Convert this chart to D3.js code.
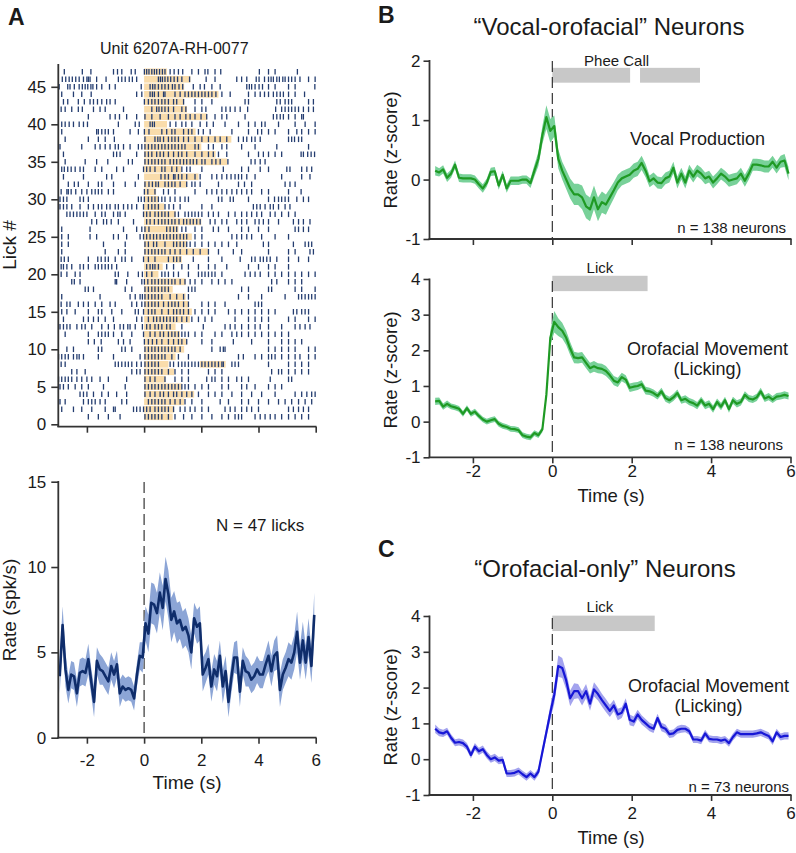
<!DOCTYPE html>
<html><head><meta charset="utf-8">
<script src="https://cdn.jsdelivr.net/npm/d3@7"></script>
<style>
body{margin:0;background:#fff;}
svg{display:block;}
</style></head><body>
<svg id="fig" width="796" height="853"></svg>
<script>
// ---------------- DATA ----------------
// Panel A raster: spike times (s) per lick trial, row 1 (bottom) to row 47 (top)
const spikeRows = [
[-1.95,-1.60,-1.25,-0.84,0.03,0.15,0.27,0.38,0.50,0.62,0.85,1.08,1.38,1.67,2.02,2.37,2.72,2.95,3.18,3.30,3.41,3.88,4.06,4.23,4.41,4.58,4.81,5.05,5.28,5.51,5.75],
[-2.88,-2.47,-2.18,-1.83,-1.36,-1.07,-1.01,-0.37,-0.26,-0.14,-0.02,0.09,0.21,0.38,0.50,0.62,0.73,0.85,1.03,1.26,1.43,1.61,1.78,2.02,2.25,2.83,3.01,3.18,3.41,3.59,3.76,4.00,5.05,5.22,5.40,5.57,5.75],
[-2.94,-2.76,-2.12,-1.95,-1.83,-1.71,-1.54,-1.36,-0.78,-0.61,0.15,0.27,0.38,0.50,0.62,0.73,0.91,1.08,1.26,1.43,1.67,2.02,2.66,2.95,3.41,3.65,4.00,4.35,4.70,4.93,5.16,5.40,5.63,5.86],
[-2.24,-2.12,-2.00,-1.77,-1.48,-1.25,-0.96,-0.61,0.03,0.21,0.38,0.56,0.68,0.85,1.03,1.14,1.32,1.49,1.67,1.90,2.25,2.48,2.72,3.07,3.41,3.76,4.11,4.58,5.28,5.51,5.69,5.86,5.98],
[-2.94,-2.82,-2.65,-2.41,-2.18,-1.95,-1.42,-0.66,0.03,0.15,0.27,0.38,0.50,0.62,0.73,0.85,0.97,1.08,1.20,1.32,1.43,1.55,1.78,2.02,2.25,2.72,2.95,3.41,3.59,3.88,4.35,4.58,4.81],
[-2.99,-2.88,-2.76,-2.65,-2.53,-2.35,-2.18,-2.00,-1.83,-1.54,-1.25,-0.61,0.03,0.21,0.38,0.73,1.08,1.32,1.55,2.19,2.37,2.48,2.72,2.95,3.24,3.41,3.65,4.41,5.05,5.16],
[-2.53,-2.35,-2.06,-0.43,-0.26,-0.14,0.03,0.15,0.27,0.38,0.50,0.62,0.85,1.08,1.32,1.55,2.25,2.48,2.72,4.46,4.70,4.81,5.05,5.28,5.51,5.75],
[-2.90,-2.76,-1.01,-0.90,-0.78,-0.66,-0.55,-0.43,-0.26,-0.10,0.03,0.15,0.27,0.38,0.50,0.91,1.03,1.20,1.32,1.43,1.55,1.67,1.78,1.90,2.02,2.13,2.25,2.37,2.48,2.60,2.72,2.77,3.07,3.18,3.30,4.35,5.05,5.28,5.51,5.75],
[-2.99,-2.88,-2.76,-2.65,-2.47,-2.35,-2.27,-2.12,-1.60,-1.07,-0.14,0.03,0.15,0.27,0.38,0.50,0.62,0.73,0.97,1.20,1.55,3.30,3.47,3.88,4.11,4.35,4.46,4.58,4.81,5.05,5.28,5.45,5.75,5.98],
[-2.70,-2.47,-1.60,-1.48,-0.78,-0.66,-0.43,0.03,0.15,0.27,0.38,0.50,0.62,0.73,0.85,0.97,1.08,1.26,2.37,2.66,2.77,2.83,4.35,4.58,4.81,5.05,5.28,5.75,5.98],
[-1.95,-1.74,-1.50,-0.90,-0.72,-0.49,0.01,0.15,0.29,0.44,0.62,0.85,1.03,1.20,1.32,1.49,2.02,2.37,3.12,3.76,4.35,4.81,5.05,5.28,5.51],
[-2.76,-1.95,-1.60,-1.48,-1.36,-1.25,-1.07,-0.78,-0.43,-0.02,0.21,0.38,0.56,0.68,0.85,0.97,1.08,1.20,1.32,1.43,1.55,1.78,2.02,2.48,2.72,3.07,3.24,3.41,3.65,3.88,4.11,4.35,4.58,4.81,5.05],
[-2.94,-2.82,-2.70,-2.59,-2.35,-2.18,-2.06,-1.83,-1.48,-1.25,-1.04,-0.84,-0.72,-0.57,-0.49,-0.31,-0.06,0.09,0.21,0.38,0.50,0.62,0.79,0.91,1.32,2.07,2.83,3.01,3.18,3.41,3.65,3.88,4.06,4.35,4.81,5.28,5.45,5.63,5.80],
[-2.82,-2.12,-1.95,-1.77,-1.60,-1.36,-1.07,-0.26,-0.08,0.15,0.33,0.44,0.56,0.68,0.79,0.91,1.03,1.14,1.32,1.49,1.67,1.90,2.13,2.37,3.18,3.65,3.88,4.11,4.35,5.05,5.28,5.75,5.98],
[-2.88,-2.70,-2.41,-1.95,-1.60,-1.48,-1.13,-0.78,-0.31,-0.20,-0.02,0.15,0.27,0.38,0.62,0.85,1.03,1.14,1.26,1.38,1.55,1.78,2.02,2.25,2.48,2.95,3.18,3.41,3.65,3.88,4.11,4.35,4.58,5.22,5.34,5.51,5.63,5.75],
[-2.90,-2.70,-2.59,-2.30,-2.12,-1.95,-1.71,-1.48,-1.19,-1.01,-0.43,-0.26,-0.08,0.03,0.15,0.27,0.38,0.50,0.68,0.85,0.97,1.08,1.20,1.38,1.55,2.02,2.25,2.48,2.83,3.88,4.00,4.11],
[-2.88,-1.54,-0.49,-0.31,-0.14,-0.06,0.03,0.15,0.27,0.38,0.50,0.62,0.91,1.14,1.38,1.55,3.30,3.65,4.11,4.93,5.40,5.51,5.63,5.75,5.86,5.98],
[-2.06,-1.95,-1.77,-0.66,-0.43,0.03,0.15,0.27,0.38,0.50,0.62,0.73,0.85,1.55,1.67,1.78,3.41,3.65,4.35,4.46,5.28,5.51,5.98],
[-2.53,-2.44,-2.24,-1.01,-0.96,-0.61,-0.08,0.01,0.13,0.27,0.38,0.50,0.62,0.73,0.85,0.97,1.08,1.26,1.43,1.61,1.78,2.02,2.37,2.60,2.83,3.07,4.46,4.64,5.05,5.28,5.51],
[-2.90,-2.70,-2.41,-2.24,-1.01,-0.90,-0.57,-0.20,-0.06,0.09,0.27,0.62,0.73,0.85,1.03,1.20,1.55,1.90,2.02,2.13,2.25,2.37,2.48,2.72,3.53,3.71,3.88,4.06,4.35,4.58,4.81,5.05,5.28,5.51,5.75,5.98],
[-2.90,-2.82,-2.70,-2.53,-2.24,-2.12,-1.95,-1.71,-1.60,-1.48,-1.36,-1.25,-1.13,-0.96,0.09,0.21,0.30,0.38,0.50,0.79,1.03,1.32,1.55,1.90,2.25,2.48,2.89,3.65,4.00,4.35,4.58,5.05],
[-2.90,-2.79,-2.65,-1.95,-1.62,-1.50,-1.36,-1.25,-1.01,-0.78,-0.66,-0.43,-0.02,0.15,0.38,0.85,1.03,1.14,1.26,1.72,2.25,2.72,3.36,3.76,3.88,4.06,4.17,4.29,4.41,4.64,5.05,5.40,5.75],
[-2.88,-1.36,-0.90,-0.66,0.03,0.15,0.27,0.38,0.50,0.62,0.73,0.91,1.08,1.26,1.49,1.72,1.96,2.25,2.60,3.12,3.41,4.35,5.05,5.28,5.80,5.92],
[-2.88,-2.65,-1.42,-0.66,0.03,0.15,0.33,0.44,0.73,1.03,1.14,1.26,1.38,1.49,1.61,1.78,2.02,2.25,2.48,2.72,2.95,3.24,4.17,4.35,5.22,5.63,5.75,5.86],
[-2.88,-2.65,-1.89,-1.66,-1.07,-0.90,-0.61,-0.14,-0.02,0.09,0.21,0.33,0.44,0.56,0.68,0.79,0.91,1.03,1.14,1.26,1.38,1.49,1.78,2.02,3.07,3.24,3.41,3.59,3.76,4.11,4.58,5.05],
[-2.88,-1.89,-0.72,-0.26,-0.08,0.03,0.17,0.79,0.91,1.03,1.14,1.32,1.46,1.78,2.02,2.42,2.60,2.95,3.41,3.65,4.00,4.35,5.28,5.40,5.57,5.75],
[-1.83,-1.66,-1.42,-1.31,-1.15,-0.90,-0.37,0.09,0.21,0.36,0.50,0.62,0.73,0.85,0.97,1.08,1.22,1.38,1.49,1.61,1.72,1.84,1.96,2.31,2.48,2.72,2.89,3.24,3.41,3.59,3.88,4.02,4.17,4.35,4.70,5.22,5.40,5.57,5.80],
[-2.70,-2.59,-2.47,-2.35,-2.24,-2.12,-2.00,-1.71,-1.48,-1.36,-1.07,-0.92,-0.84,-0.66,-0.02,0.09,0.21,0.38,0.50,0.62,0.73,0.85,1.08,1.20,1.43,1.55,1.67,1.78,1.90,2.02,2.25,2.42,2.60,2.95,3.18,3.41,3.59,3.76,3.94,4.11,4.41,4.58,4.81,5.05,5.28],
[-2.94,-2.82,-2.70,-2.53,-2.24,-1.95,-1.77,-1.60,-1.48,-1.31,-1.19,-1.01,-0.90,-0.72,-0.57,-0.43,-0.26,-0.02,0.15,0.27,0.38,0.50,0.73,0.87,1.03,1.26,2.02,2.37,3.82,3.94,4.06,4.23,4.41,4.52,4.70,4.93,5.10],
[-2.94,-2.82,-2.70,-2.24,-2.12,-1.95,-0.20,-0.10,0.01,0.15,0.27,0.38,0.50,0.62,0.73,0.91,1.08,1.26,1.43,1.55,2.60,2.72,3.01,3.12,3.65,4.35,4.56,4.70,4.81,4.93,5.05,5.34,5.57,5.75],
[-2.90,-2.70,-2.65,-2.55,-2.39,-2.18,-2.00,-1.83,-1.71,-1.60,-1.48,-1.25,-1.07,0.01,0.13,0.38,0.68,0.85,1.08,1.78,2.19,2.37,2.54,2.72,2.89,3.07,3.24,3.41,3.59,3.76,4.11,4.35,5.05,5.49],
[-2.65,-2.44,-2.30,-1.95,-1.60,-1.48,-1.07,-0.66,-0.31,0.03,0.17,0.29,0.41,0.50,0.73,0.85,0.97,1.08,1.26,1.49,1.67,1.78,1.96,2.60,3.30,3.51,3.76,4.93,5.10,5.28],
[-2.82,-2.12,-1.31,-1.13,-0.20,0.59,0.73,0.85,1.03,1.08,1.20,1.32,1.49,1.78,1.96,2.37,2.54,2.72,2.89,3.04,3.18,3.30,3.41,3.59,3.88,4.81,5.51,5.80],
[-2.88,-2.79,-2.67,-2.55,-2.41,-2.24,-2.12,-1.71,-1.48,-0.96,-0.72,-0.02,0.09,0.21,0.38,0.62,0.73,0.97,1.14,1.32,1.49,1.61,2.02,2.77,3.41,3.65,4.06,4.35,4.99,5.10,5.51,5.69,5.86],
[-2.76,-2.06,-1.66,-1.27,-0.55,-0.41,0.03,0.15,0.27,0.38,0.50,0.62,0.73,0.91,1.03,1.14,1.26,1.38,1.49,1.61,1.72,1.84,2.02,2.13,2.37,2.51,2.66,2.93,3.74,3.88,4.06,4.23],
[-2.82,-1.07,-0.96,-0.84,-0.26,0.03,0.15,0.27,0.44,0.56,0.68,0.85,1.03,1.20,1.32,1.49,1.78,2.02,2.25,2.42,2.60,2.89,3.65,4.00,4.17,4.35,4.58,4.81,5.49,5.57,5.72,5.84,5.96],
[-2.94,-2.18,-1.71,-1.54,-1.36,-1.19,-1.01,-0.90,-0.72,-0.49,-0.20,-0.08,0.03,0.15,0.27,0.38,0.50,0.62,0.73,0.85,0.97,1.08,1.20,1.32,1.43,1.78,1.90,2.25,2.42,2.72,2.89,3.41,3.88,4.64,5.75],
[-2.76,-1.95,-1.60,-1.36,-1.04,0.03,0.38,0.48,0.56,0.68,0.85,0.97,1.08,1.20,1.38,1.55,1.78,2.02,2.25,2.48,2.66,2.89,3.30,3.47,3.59,3.76,3.88,4.06,5.05,5.16,5.26,5.40,5.51],
[-2.88,-1.66,-1.60,-1.48,-1.36,-1.25,-1.07,-0.49,-0.20,0.01,0.17,0.62,0.79,0.97,1.08,1.38,1.55,1.67,1.90,2.07,2.31,3.07,3.65,3.97,4.11,4.35,4.58,5.05,5.34,5.51,5.75,5.98],
[-2.88,-2.76,-2.62,-2.47,-2.27,-2.12,-1.98,-0.90,-0.31,-0.17,0.21,0.29,0.36,0.91,1.11,1.32,1.46,1.67,1.96,2.19,2.42,2.83,3.30,3.65,3.88,4.11,4.23,4.70,5.28,5.63,5.98],
[-1.95,-1.19,-1.01,-0.86,-0.61,-0.26,0.03,0.27,0.56,0.85,1.08,1.26,1.46,1.61,1.78,1.99,2.19,2.48,2.72,2.89,3.53,4.52,4.64,4.76,4.87,5.05,5.28,5.51,5.57],
[-2.90,-2.76,-2.53,-2.30,-2.16,-1.77,-1.54,-1.36,-0.72,0.27,0.44,0.52,0.62,0.73,0.85,1.03,1.32,1.46,1.78,2.02,2.16,2.72,2.86,3.01,3.18,3.36,3.62,4.60,4.81,4.93,5.05,5.16,5.28,5.40,5.57,5.75,5.92],
[-2.82,-2.67,-2.30,-2.09,-1.89,-1.77,-1.63,-1.48,-1.31,-1.19,-1.01,0.01,0.15,0.27,0.38,0.50,0.62,0.73,0.85,1.03,1.14,1.38,1.78,2.02,2.37,3.53,3.65,4.64,4.76,4.93,5.05,5.16,5.75,5.92],
[-2.88,-2.47,-2.18,-1.85,-0.26,-0.08,0.21,0.29,0.36,0.50,0.68,0.73,1.08,1.26,1.43,1.55,1.67,1.78,1.90,2.02,2.13,2.25,2.37,2.51,2.72,3.01,3.65,3.88,4.06,4.21,4.35,4.52,4.64,4.76,4.87,5.05,5.28,5.61],
[-2.97,-2.67,-2.59,-2.44,-2.27,-2.16,-2.06,-1.97,-1.86,-1.79,-1.66,-1.48,-1.21,-1.01,-0.10,0.21,0.30,0.38,0.50,0.62,0.73,0.85,0.99,1.08,1.22,1.35,1.72,1.96,2.11,2.37,2.66,3.59,3.68,3.76,3.88,4.02,4.14,4.35,4.58,5.05,5.28,5.97],
[-2.86,-2.74,-2.62,-2.51,-2.39,-2.27,-2.12,-2.00,-1.95,-1.89,-1.66,-1.33,-0.90,-0.78,-0.66,-0.52,-0.41,-0.26,0.50,0.57,0.64,0.73,0.83,0.93,1.05,1.17,1.32,1.59,2.17,2.48,3.24,3.41,3.59,3.92,4.02,4.21,4.35,4.44,4.52,4.64,4.73,4.85,4.93,5.05,5.16,5.28,5.45,5.75,5.98],
[-2.79,-2.16,-1.86,-1.07,-0.93,-0.78,-0.45,-0.31,0.01,0.09,0.17,0.27,0.36,0.44,0.54,0.64,0.73,0.91,1.05,1.20,1.35,1.67,1.90,2.13,2.23,2.48,2.68,4.03,4.35,4.58,5.36]
];
// lick bout end time (s) per row (bouts start at 0), row 1..47
const lickEnd = [1.0,1.05,1.4,1.75,1.32,0.75,1.05,0.85,1.1,1.4,
  1.49,1.25,1.1,1.6,1.67,1.55,1.45,1.0,1.45,0.5,
  0.65,1.32,2.25,1.5,1.67,1.2,2.0,1.1,0.7,0.5,
  0.42,1.5,1.9,1.3,2.9,2.5,2.0,3.05,1.8,0.8,
  2.2,1.5,1.4,2.6,1.4,1.62,0.8];
const extraBoutRows = [8];
const extraBouts = [[1.95, 2.85]];
const rasterTicks = [0,5,10,15,20,25,30,35,40,45];

// PSTH bins: 0.1 s bins, centres from -2.95 to 5.95 s
const timeBins = d3.range(90).map(i => -2.95 + i * 0.1);
const timeTicks = [-2,0,2,4,6];

// Panel A PSTH (spk/s) and SEM
const rateA = [3.6,6.6,4.0,2.8,3.7,3.6,2.6,3.8,3.9,3.8,
  4.6,3.3,2.1,4.5,4.0,3.9,3.6,3.3,4.2,3.7,
  4.3,2.6,3.0,2.8,2.9,2.8,2.3,3.7,4.8,4.7,
  6.7,6.1,7.9,7.8,7.3,8.5,7.6,9.3,8.4,6.9,
  7.4,6.7,6.9,6.3,6.5,6.0,5.0,7.0,6.5,6.7,
  3.7,4.1,4.6,3.0,4.0,3.6,4.8,3.0,3.9,2.1,
  3.5,4.7,4.7,2.7,4.5,3.9,3.8,3.4,3.6,4.0,
  3.7,3.7,4.3,4.8,3.9,4.8,5.0,2.8,3.7,4.1,
  4.6,4.4,5.0,6.2,4.4,5.7,4.4,5.9,4.2,7.2];
const semA = [1.0,1.1,1.0,0.8,0.8,0.8,0.8,0.8,0.8,0.8,
  0.9,0.8,0.9,0.8,0.9,0.8,0.8,0.8,0.8,0.8,
  0.8,0.8,0.7,0.7,0.7,0.7,0.7,0.7,0.8,0.9,
  1.0,1.1,1.2,1.2,1.2,1.2,1.3,1.3,1.4,1.3,
  1.2,1.2,1.1,1.1,1.1,1.0,1.0,0.9,1.0,1.0,
  1.0,0.9,0.9,0.9,0.9,0.9,0.9,1.0,0.9,0.9,
  0.9,0.9,1.0,0.9,0.8,0.9,0.8,0.8,0.8,0.8,
  0.8,0.8,0.8,0.9,0.9,0.9,1.0,1.0,0.9,0.9,
  1.0,1.0,1.0,1.2,1.0,1.1,1.0,1.1,1.0,1.3];

// Panel B top: vocal production (z-score)
const vocalZ = [0.15,0.12,0.17,0.03,0.10,0.25,0.03,0.02,0.02,0.02,
  0.0,-0.08,-0.15,-0.05,0.13,0.14,-0.10,0.08,-0.15,-0.02,
  -0.02,-0.02,0.0,0.0,-0.06,0.15,0.35,0.75,1.05,0.82,
  0.9,0.35,0.15,0.0,-0.15,-0.25,-0.25,-0.3,-0.45,-0.5,
  -0.3,-0.5,-0.38,-0.42,-0.3,-0.18,-0.05,0.02,0.05,0.08,
  0.15,0.18,0.28,0.15,-0.03,0.02,-0.05,-0.06,0.02,0.05,
  0.2,-0.05,0.1,-0.05,0.15,0.05,0.15,0.1,0.02,0.05,
  -0.05,0.02,0.1,0.05,-0.02,0.0,0.02,0.1,-0.02,0.1,
  0.25,0.25,0.24,0.22,0.22,0.3,0.2,0.3,0.32,0.1];
const vocalSem = [0.08,0.07,0.07,0.07,0.07,0.07,0.07,0.07,0.07,0.07,
  0.07,0.07,0.07,0.07,0.07,0.07,0.07,0.07,0.07,0.07,
  0.07,0.07,0.07,0.07,0.08,0.1,0.12,0.15,0.2,0.2,
  0.18,0.16,0.15,0.16,0.17,0.18,0.18,0.2,0.2,0.2,
  0.2,0.2,0.18,0.17,0.15,0.14,0.13,0.12,0.12,0.12,
  0.12,0.12,0.12,0.11,0.1,0.1,0.1,0.1,0.1,0.1,
  0.1,0.1,0.1,0.1,0.1,0.1,0.1,0.1,0.1,0.1,
  0.1,0.1,0.1,0.1,0.1,0.1,0.1,0.1,0.1,0.1,
  0.1,0.1,0.1,0.1,0.1,0.1,0.1,0.1,0.11,0.11];

// Panel B bottom: licking, vocal-orofacial neurons
const lickZ = [0.57,0.58,0.42,0.5,0.43,0.4,0.36,0.22,0.38,0.22,
  0.28,0.16,0.06,0.0,0.04,0.07,-0.06,-0.12,-0.15,-0.2,
  -0.21,-0.24,-0.38,-0.42,-0.44,-0.32,-0.38,-0.22,0.75,2.35,
  2.8,2.65,2.55,2.35,2.05,1.8,1.78,1.8,1.65,1.5,
  1.55,1.5,1.48,1.42,1.3,1.15,1.1,1.25,1.18,0.95,
  0.98,1.0,1.05,0.87,0.85,0.8,0.72,0.85,0.66,0.6,
  0.68,0.8,0.6,0.64,0.56,0.52,0.45,0.6,0.45,0.5,
  0.35,0.55,0.42,0.6,0.35,0.6,0.5,0.55,0.75,0.65,
  0.62,0.68,0.85,0.65,0.7,0.62,0.7,0.72,0.75,0.72];
const lickSem = [0.1,0.1,0.09,0.09,0.08,0.08,0.08,0.08,0.08,0.08,
  0.08,0.08,0.08,0.08,0.08,0.08,0.08,0.08,0.08,0.08,
  0.08,0.08,0.08,0.08,0.08,0.08,0.08,0.08,0.12,0.2,
  0.3,0.25,0.22,0.2,0.18,0.16,0.15,0.15,0.15,0.15,
  0.15,0.14,0.14,0.14,0.13,0.13,0.13,0.12,0.12,0.12,
  0.12,0.11,0.11,0.11,0.1,0.1,0.1,0.1,0.1,0.1,
  0.1,0.1,0.1,0.1,0.1,0.1,0.1,0.1,0.1,0.1,
  0.1,0.1,0.1,0.1,0.1,0.1,0.1,0.1,0.1,0.1,
  0.1,0.1,0.1,0.1,0.1,0.1,0.1,0.1,0.1,0.1];

// Panel C: orofacial-only neurons
const oroZ = [0.85,0.75,0.72,0.78,0.6,0.46,0.48,0.45,0.35,0.12,
  0.35,0.22,0.28,0.12,0.0,0.05,-0.04,-0.02,-0.4,-0.4,
  -0.38,-0.33,-0.42,-0.5,-0.4,-0.5,-0.35,0.2,0.75,1.3,
  1.8,2.6,2.55,2.2,1.7,1.9,1.9,1.7,1.9,1.55,
  1.95,1.82,1.65,1.5,1.35,1.5,1.25,1.3,1.55,1.1,
  1.05,1.25,1.1,1.0,0.9,0.85,1.15,0.9,0.85,0.7,
  0.72,0.82,0.85,0.85,0.78,0.55,0.55,0.52,0.72,0.57,
  0.55,0.55,0.52,0.55,0.45,0.62,0.75,0.7,0.7,0.7,
  0.7,0.72,0.75,0.7,0.65,0.5,0.75,0.62,0.65,0.65];
const oroSem = [0.12,0.11,0.1,0.1,0.1,0.1,0.1,0.1,0.1,0.1,
  0.1,0.1,0.1,0.1,0.1,0.1,0.1,0.1,0.1,0.1,
  0.1,0.1,0.1,0.1,0.1,0.1,0.1,0.12,0.15,0.2,
  0.25,0.3,0.28,0.25,0.22,0.22,0.2,0.2,0.2,0.2,
  0.2,0.18,0.18,0.18,0.17,0.16,0.16,0.15,0.15,0.15,
  0.14,0.13,0.13,0.12,0.12,0.12,0.12,0.12,0.12,0.11,
  0.11,0.11,0.11,0.1,0.1,0.1,0.1,0.1,0.1,0.1,
  0.1,0.1,0.1,0.1,0.1,0.1,0.1,0.1,0.1,0.1,
  0.1,0.1,0.1,0.1,0.1,0.1,0.1,0.1,0.1,0.1];

// Event bars (start, end in s; bottom, top in z-score)
const pheeBars = [[0, 1.96], [2.21, 3.72]];
const pheeBarY = [1.63, 1.88];
const lickBarB = [[0, 2.4]];
const lickBarBY = [3.66, 4.09];
const lickBarC = [[0, 2.58]];
const lickBarCY = [3.58, 4.01];

// ---------------- DRAWING ----------------
const FONT = '"Liberation Sans", Arial, Helvetica, sans-serif';
const INK = '#1a1a1a', AXC = '#333';
const svg = d3.select('#fig').attr('font-family', FONT);

function label(x, y, s, fs, anchor, weight, rot) {
  const t = svg.append('text').attr('x', rot ? 0 : x).attr('y', rot ? 0 : y)
    .attr('font-size', fs).attr('text-anchor', anchor || 'middle')
    .attr('font-weight', weight || 'normal').attr('fill', INK).text(s);
  if (rot) t.attr('transform', `translate(${x},${y}) rotate(${rot})`);
  return t;
}
function yAxis(scale, ticks, x, fs, tick, pad, y0, y1) {
  const g = svg.append('g').attr('transform', `translate(${x},0)`)
    .call(d3.axisLeft(scale).tickValues(ticks).tickSize(tick).tickPadding(pad).tickFormat(d => String(d)));
  g.select('.domain').remove();
  g.attr('font-family', FONT).attr('font-size', fs);
  g.selectAll('.tick line').attr('stroke', AXC).attr('stroke-width', 1.6);
  g.selectAll('.tick text').attr('fill', INK);
  svg.append('line').attr('x1', x).attr('x2', x).attr('y1', y0).attr('y2', y1)
    .attr('stroke', AXC).attr('stroke-width', 1.8);
}
function xAxis(scale, ticks, y, fs, tick, pad, x0, x1, show) {
  const g = svg.append('g').attr('transform', `translate(0,${y})`)
    .call(d3.axisBottom(scale).tickValues(ticks).tickSize(tick).tickPadding(pad)
      .tickFormat(show ? (d => String(d)) : (() => '')));
  g.select('.domain').remove();
  g.attr('font-family', FONT).attr('font-size', fs);
  g.selectAll('.tick line').attr('stroke', AXC).attr('stroke-width', 1.6);
  g.selectAll('.tick text').attr('fill', INK);
  svg.append('line').attr('x1', x0).attr('x2', x1).attr('y1', y).attr('y2', y)
    .attr('stroke', AXC).attr('stroke-width', 1.8);
}
function trace(x, y, vals, sem, lineColor, bandColor, lw) {
  const area = d3.area().x((d, i) => x(timeBins[i]))
    .y0((d, i) => y(vals[i] - sem[i])).y1((d, i) => y(vals[i] + sem[i]));
  svg.append('path').datum(vals).attr('d', area).attr('fill', bandColor);
  const line = d3.line().x((d, i) => x(timeBins[i])).y(d => y(d));
  svg.append('path').datum(vals).attr('d', line).attr('fill', 'none')
    .attr('stroke', lineColor).attr('stroke-width', lw).attr('stroke-linejoin', 'round');
}
function dashed(x, y0, y1) {
  svg.append('line').attr('x1', x).attr('x2', x).attr('y1', y0).attr('y2', y1)
    .attr('stroke', '#222').attr('stroke-width', 1.1).attr('stroke-dasharray', '11,5');
}
function bars(x, y, spans, yr) {
  svg.append('g').selectAll('rect').data(spans).join('rect')
    .attr('x', d => x(d[0])).attr('width', d => x(d[1]) - x(d[0]))
    .attr('y', y(yr[1])).attr('height', y(yr[0]) - y(yr[1])).attr('fill', '#c8c8c8');
}

// ----- Panel A: raster -----
const xA = d3.scaleLinear().domain([-3, 6]).range([58.3, 315.7]);
const yR = d3.scaleLinear().domain([0, 48]).range([424.3, 64.3]);
const gR = svg.append('g');
const bouts = [];
lickEnd.forEach((e, i) => bouts.push({ row: i + 1, s: 0, e: e }));
extraBoutRows.forEach((r, j) => bouts.push({ row: r, s: extraBouts[j][0], e: extraBouts[j][1] }));
gR.selectAll('rect.lick').data(bouts).join('rect').attr('class', 'lick')
  .attr('x', d => xA(d.s)).attr('width', d => xA(d.e) - xA(d.s))
  .attr('y', d => yR(d.row) - 3.3).attr('height', 6.6).attr('fill', '#f9dcab');
spikeRows.forEach((row, i) => {
  const k = i + 1;
  gR.append('g').selectAll('line').data(row).join('line')
    .attr('x1', d => xA(d)).attr('x2', d => xA(d))
    .attr('y1', yR(k) - 2.8).attr('y2', yR(k) + 2.8)
    .attr('stroke', '#243d70').attr('stroke-width', 1.3);
});
yAxis(yR, rasterTicks, 58.3, 17, 7, 5, 64, 427);
xAxis(xA, timeTicks, 426.7, 16, 6, 10, 57.4, 316.5, false);
label(8, 25, 'A', 23, 'start', 'bold');
label(100, 54, 'Unit 6207A-RH-0077', 16, 'start');
label(16, 245, 'Lick #', 19, 'middle', 'normal', -90);

// ----- Panel A: PSTH -----
const yP = d3.scaleLinear().domain([0, 15]).range([737.7, 481.7]);
dashed(xA(0), 482, 737);
trace(xA, yP, rateA, semA, '#0f2d6b', '#8ca5d6', 2.6);
yAxis(yP, [0, 5, 10, 15], 58.3, 17, 7, 5, 481, 738.5);
xAxis(xA, timeTicks, 737.7, 17, 6, 10, 57.4, 316.5, true);
label(216, 531, 'N = 47 licks', 17, 'start');
label(187, 789, 'Time (s)', 19, 'middle');
label(16, 610, 'Rate (spk/s)', 19, 'middle', 'normal', -90);

// ----- Panel B: top (vocal) -----
const xB = d3.scaleLinear().domain([-3, 6]).range([433.2, 790.5]);
const yB1 = d3.scaleLinear().domain([-1, 2]).range([239, 60.7]);
bars(xB, yB1, pheeBars, pheeBarY);
dashed(xB(0), 61, 239);
trace(xB, yB1, vocalZ, vocalSem, '#1f9a24', '#78d199', 2.2);
yAxis(yB1, [-1, 0, 1, 2], 429.5, 17, 6, 3, 60, 239.8);
xAxis(xB, timeTicks, 239, 17, 6, 3, 428.6, 791.5, false);
label(378, 23, 'B', 23, 'start', 'bold');
label(609, 35, '\u201CVocal-orofacial\u201D Neurons', 24, 'middle');
label(xB(1.62), 65.5, 'Phee Call', 15, 'middle');
label(630, 145, 'Vocal Production', 18, 'start');
label(786, 233, 'n = 138 neurons', 15, 'end');
label(397, 150, 'Rate (z-score)', 18.5, 'middle', 'normal', -90);

// ----- Panel B: bottom (licking) -----
const yB2 = d3.scaleLinear().domain([-1, 4]).range([457.3, 279]);
bars(xB, yB2, lickBarB, lickBarBY);
dashed(xB(0), 281, 457);
trace(xB, yB2, lickZ, lickSem, '#1f9a24', '#78d199', 2.2);
yAxis(yB2, [-1, 0, 1, 2, 3, 4], 429.5, 17, 6, 3, 278.5, 458);
xAxis(xB, timeTicks, 457.3, 17, 6, 2, 428.6, 791.5, true);
label(xB(1.2), 272.5, 'Lick', 15, 'middle');
label(707.5, 355, 'Orofacial Movement', 18, 'middle');
label(707.5, 375, '(Licking)', 18, 'middle');
label(783, 450, 'n = 138 neurons', 15, 'end');
label(397, 370, 'Rate (z-score)', 18.5, 'middle', 'normal', -90);
label(611, 502, 'Time (s)', 18.5, 'middle');

// ----- Panel C -----
const yC = d3.scaleLinear().domain([-1, 4]).range([795, 616]);
bars(xB, yC, lickBarC, lickBarCY);
dashed(xB(0), 618, 795);
trace(xB, yC, oroZ, oroSem, '#1717d6', '#a3a3ee', 2.2);
yAxis(yC, [-1, 0, 1, 2, 3, 4], 429.5, 17, 6, 3, 615.5, 795.8);
xAxis(xB, timeTicks, 795, 17, 6, 6, 428.6, 791.5, true);
label(378, 557, 'C', 23, 'start', 'bold');
label(605, 577, '\u201COrofacial-only\u201D Neurons', 24, 'middle');
label(xB(1.2), 611.5, 'Lick', 15, 'middle');
label(708.5, 691.5, 'Orofacial Movement', 18, 'middle');
label(708.5, 711.5, '(Licking)', 18, 'middle');
label(789, 792, 'n = 73 neurons', 15, 'end');
label(397, 707, 'Rate (z-score)', 18.5, 'middle', 'normal', -90);
label(611, 844, 'Time (s)', 18.5, 'middle');
</script>
</body></html>
